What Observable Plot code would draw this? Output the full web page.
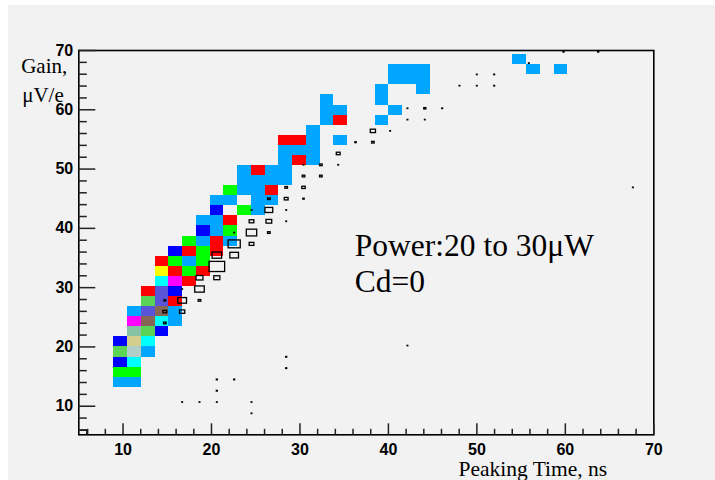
<!DOCTYPE html>
<html><head><meta charset="utf-8">
<script src="https://cdn.jsdelivr.net/npm/d3@7"></script>
<script src="https://cdn.jsdelivr.net/npm/@observablehq/plot@0.6"></script>
<style>
html,body{margin:0;padding:0;background:#ffffff;}
#bg{position:absolute;left:8px;top:5px;width:707px;height:475px;background:#f2f2f2;}
#chart{position:absolute;left:0;top:0;}
</style></head><body><div id="bg"></div><div id="chart"></div>
<script>
// colour keys of the COL histogram
const palette = {LB:"#00a6ff", G:"#00ff00", B:"#0000ff", R:"#ff0000", C:"#00ffff", M:"#ff00ff", Y:"#ffff00",
  MG:"#59d454", GG:"#b1cfc9", KH:"#d3ce8b", SG:"#86c2a3", SL:"#5954d8", BR:"#876657"};

// coloured bins: [peaking time lower edge (ns), gain lower edge (uV/e), colour]
const cellW = 1.555, cellH = 1.7;
const cells = [
  [8.96,13.2,"LB"],[10.52,13.2,"LB"],
  [8.96,14.9,"G"],[10.52,14.9,"G"],
  [8.96,16.6,"B"],[10.52,16.6,"C"],
  [8.96,18.3,"MG"],[10.52,18.3,"GG"],[12.07,18.3,"LB"],
  [8.96,20.0,"B"],[10.52,20.0,"KH"],[12.07,20.0,"C"],
  [10.52,21.7,"SG"],[12.07,21.7,"MG"],[13.63,21.7,"B"],
  [10.52,23.4,"M"],[12.07,23.4,"BR"],[13.63,23.4,"C"],[15.18,23.4,"LB"],
  [10.52,25.1,"LB"],[12.07,25.1,"SL"],[13.63,25.1,"BR"],[15.18,25.1,"LB"],
  [12.07,26.8,"MG"],[13.63,26.8,"SL"],[15.18,26.8,"R"],
  [12.07,28.5,"R"],[13.63,28.5,"SL"],[15.18,28.5,"B"],
  [13.63,30.2,"C"],[15.18,30.2,"M"],[16.74,30.2,"R"],
  [13.63,31.9,"Y"],[15.18,31.9,"R"],[16.74,31.9,"G"],[18.29,31.9,"R"],
  [13.63,33.6,"R"],[15.18,33.6,"G"],[16.74,33.6,"LB"],[18.29,33.6,"G"],
  [15.18,35.3,"B"],[16.74,35.3,"R"],[18.29,35.3,"G"],[19.85,35.3,"R"],
  [16.74,37.0,"G"],[18.29,37.0,"LB"],[19.85,37.0,"R"],[21.4,37.0,"LB"],
  [18.29,38.7,"B"],[19.85,38.7,"LB"],[21.4,38.7,"G"],
  [18.29,40.4,"LB"],[19.85,40.4,"LB"],[21.4,40.4,"R"],
  [19.85,42.1,"B"],[22.96,42.1,"G"],[24.51,42.1,"LB"],
  [19.85,43.8,"LB"],[21.4,43.8,"LB"],[24.51,43.8,"LB"],[26.07,43.8,"LB"],
  [21.4,45.5,"G"],[22.96,45.5,"LB"],[24.51,45.5,"LB"],[26.07,45.5,"R"],
  [22.96,47.2,"LB"],[24.51,47.2,"LB"],[26.07,47.2,"LB"],[27.62,47.2,"LB"],
  [22.96,48.9,"LB"],[24.51,48.9,"R"],[26.07,48.9,"LB"],[27.62,48.9,"LB"],
  [27.62,50.6,"LB"],[29.18,50.6,"R"],[30.73,50.6,"LB"],
  [27.62,52.3,"LB"],[29.18,52.3,"LB"],[30.73,52.3,"LB"],
  [27.62,54.0,"R"],[29.18,54.0,"R"],[30.73,54.0,"LB"],[33.84,54.0,"LB"],
  [30.73,55.7,"LB"],
  [32.29,57.4,"LB"],[33.84,57.4,"R"],[38.51,57.4,"LB"],
  [32.29,59.1,"LB"],[33.84,59.1,"LB"],[40.06,59.1,"LB"],
  [32.29,60.8,"LB"],[38.51,60.8,"LB"],
  [38.51,62.5,"LB"],[43.17,62.5,"LB"],
  [40.06,64.2,"LB"],[41.62,64.2,"LB"],[43.17,64.2,"LB"],
  [40.06,65.9,"LB"],[41.62,65.9,"LB"],[43.17,65.9,"LB"],[55.61,65.9,"LB"],[58.72,65.9,"LB"],
  [54.06,67.6,"LB"]
];

// BOX histogram: [bin centre ns, bin centre uV/e, relative content]
const boxW = 1.96, boxH = 1.9;
const boxes = [
  [4.98,4.92,1.0],
  [14.78,23.96,0.15],[14.78,25.87,0.22],[16.74,25.87,0.3],
  [14.78,27.77,0.1],[16.74,27.77,0.5],[18.7,27.77,0.15],
  [16.74,29.68,0.04],[18.7,29.68,0.55],
  [18.7,31.59,0.4],[20.66,31.59,0.35],
  [20.66,33.49,0.9],
  [20.66,35.4,0.55],[22.62,35.4,0.5],
  [22.62,37.3,0.7],[24.58,37.3,0.27],
  [22.62,39.21,0.04],[24.58,39.21,0.6],[26.54,39.21,0.15],
  [24.58,41.11,0.27],[26.54,41.11,0.33],[28.5,41.11,0.04],
  [24.58,43.02,0.04],[26.54,43.02,0.45],[28.5,43.02,0.04],
  [26.54,44.92,0.15],[28.5,44.92,0.22],[30.46,44.92,0.08],
  [28.5,46.83,0.15],[30.46,46.83,0.2],
  [30.46,48.74,0.15],[32.42,48.74,0.15],
  [30.46,50.64,0.04],[32.42,50.64,0.15],[34.38,50.64,0.04],
  [34.38,52.55,0.22],
  [36.34,54.45,0.08],[38.3,54.45,0.15],
  [38.3,56.36,0.3],[40.25,56.36,0.04],
  [42.21,58.26,0.04],[44.17,58.26,0.04],
  [42.21,60.17,0.04],[44.17,60.17,0.12],[46.13,60.17,0.05],
  [48.09,63.98,0.04],[50.05,63.98,0.04],[52.01,63.98,0.05],
  [50.05,65.88,0.04],[52.01,65.88,0.05],
  [55.93,67.79,0.04],
  [59.85,69.7,0.06],[63.77,69.7,0.06],
  [67.69,46.83,0.04],
  [42.21,20.15,0.04],
  [28.5,18.25,0.06],[28.5,16.34,0.06],
  [20.66,14.43,0.06],[22.62,14.43,0.06],
  [20.66,12.53,0.06],
  [16.74,10.62,0.04],[18.7,10.62,0.04],[20.66,10.62,0.04],[24.58,10.62,0.04],
  [24.58,8.72,0.04]
];

const xMajor = [10,20,30,40,50,60,70];
const xMinor = [6,8,12,14,16,18,22,24,26,28,32,34,36,38,42,44,46,48,52,54,56,58,62,64,66,68];
const yMajor = [10,20,30,40,50,60,70];
const yMinor = [6,8,12,14,16,18,22,24,26,28,32,34,36,38,42,44,46,48,52,54,56,58,62,64,66,68];

const notes = [
  {text:"Power:20 to 30\u03bcW", x:36.2, y:35.4},
  {text:"Cd=0", x:36.2, y:29.2}
];

const W = 715, H = 480;
const mL = 78.3, mR = 61.7, mT = 50, mB = 45.7;
const xDom = [5, 70], yDom = [5.18, 70];
const pxX = (W - mL - mR) / (xDom[1] - xDom[0]);
const pxY = (H - mT - mB) / (yDom[1] - yDom[0]);
const tickColor = "#222";

const chart = Plot.plot({
  width: W, height: H, marginLeft: mL, marginRight: mR, marginTop: mT, marginBottom: mB,
  x: {domain: xDom}, y: {domain: yDom},
  style: {background: "transparent", fontFamily: "Liberation Sans", overflow: "visible", color: "black"},
  marks: [
    Plot.rect(cells, {x1: d => d[0], x2: d => d[0] + cellW, y1: d => d[1], y2: d => d[1] + cellH,
      fill: d => palette[d[2]], shapeRendering: "crispEdges"}),
    Plot.rect(boxes, {x1: d => d[0] - d[2]*boxW/2, x2: d => d[0] + d[2]*boxW/2,
      y1: d => d[1] - d[2]*boxH/2, y2: d => d[1] + d[2]*boxH/2,
      fill: "none", stroke: "black", strokeWidth: 1.3, clip: true}),
    Plot.axisX(xMajor, {tickSize: 0, tickPadding: 9, fontSize: 16, fontWeight: "bold", label: null}),
    Plot.axisY(yMajor, {tickSize: 0, tickPadding: 5.6, fontSize: 16, fontWeight: "bold", label: null}),
    Plot.frame({stroke: "black", strokeWidth: 1.6}),
    Plot.text(notes, {x: "x", y: "y", text: "text", textAnchor: "start", lineAnchor: "bottom",
      fontFamily: "Liberation Serif", fontSize: 31.5, fill: "black"}),
    Plot.text(["Gain,"], {text: d => d, frameAnchor: "top-left", dx: -57.6, dy: 22,
      textAnchor: "start", lineAnchor: "bottom", fontFamily: "Liberation Serif", fontSize: 21, fill: "black"}),
    Plot.text(["\u03bcV/e"], {text: d => d, frameAnchor: "top-left", dx: -56.6, dy: 51,
      textAnchor: "start", lineAnchor: "bottom", fontFamily: "Liberation Serif", fontSize: 21, fill: "black"}),
    Plot.text(["Peaking Time, ns"], {text: d => d, frameAnchor: "bottom-right", dx: -46.6, dy: 40.7,
      textAnchor: "end", lineAnchor: "bottom", fontFamily: "Liberation Serif", fontSize: 21.5, fill: "black"}),
    // inward ticks, drawn last
    Plot.ruleY(yMajor, {y: d => d, x1: xDom[0], x2: xDom[0] + 17 / pxX, stroke: tickColor, strokeWidth: 1.5}),
    Plot.ruleY(yMinor, {y: d => d, x1: xDom[0], x2: xDom[0] + 8.5 / pxX, stroke: tickColor, strokeWidth: 1.5}),
    Plot.ruleX(xMajor, {x: d => d, y1: yDom[0], y2: yDom[0] + 11 / pxY, stroke: tickColor, strokeWidth: 1.5}),
    Plot.ruleX(xMinor, {x: d => d, y1: yDom[0], y2: yDom[0] + 5.5 / pxY, stroke: tickColor, strokeWidth: 1.5})
  ]
});
document.getElementById("chart").appendChild(chart);
</script></body></html>
